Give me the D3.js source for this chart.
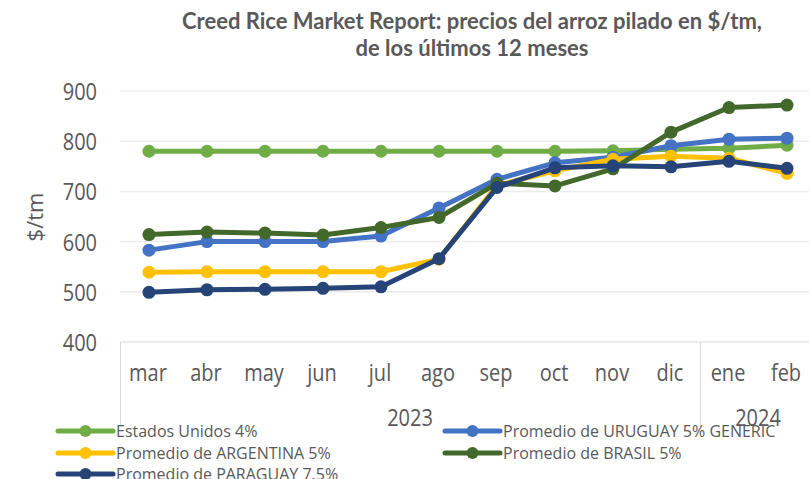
<!DOCTYPE html>
<html>
<head>
<meta charset="utf-8">
<script src="https://cdn.jsdelivr.net/npm/d3@7"></script>
<style>
	body { margin: 0; background: #fff; }
	text { font-family: "Open Sans", sans-serif; fill: #595959; }
	.title { font-family: Lato, "Open Sans", sans-serif; font-weight: bold; }
</style>
</head>
<body>
<script>
// months and years on the x axis
var months = ['mar', 'abr', 'may', 'jun', 'jul', 'ago', 'sep', 'oct', 'nov', 'dic', 'ene', 'feb'];
var years = [{ label: '2023', from: 0, to: 9 }, { label: '2024', from: 10, to: 11 }];
var yTicks = [400, 500, 600, 700, 800, 900];

// series values ($/tm)
var estadosUnidos = [780, 780, 780, 780, 780, 780, 780, 780, 781, 784, 786, 792];
var uruguay = [583, 600, 600, 600, 611, 667, 724, 757, 768, 791, 804, 806];
var argentina = [539, 540, 540, 540, 540, 565, 712, 741, 764, 770, 766, 736];
var brasil = [614, 619, 617, 613, 628, 648, 716, 711, 745, 818, 867, 872];
var paraguay = [499, 504, 505, 507, 510, 566, 708, 747, 751, 749, 760, 746];

var seriesNames = ['Estados Unidos 4%', 'Promedio de URUGUAY 5% GENERIC', 'Promedio de ARGENTINA 5%', 'Promedio de BRASIL 5%', 'Promedio de PARAGUAY 7.5%'];
var seriesValues = [estadosUnidos, uruguay, argentina, brasil, paraguay];
var seriesColors = ['#70AD47', '#4472C4', '#FFC000', '#43682B', '#264478'];

// note: "top" is a reserved window prop, so use plot* names
var W = 809, H = 479;
var plotL = 120, plotR = 816, plotT = 91, plotB = 342;
var STRETCH = 'scale(1,1.15)'; // axis text in the original looks a bit tall/narrow

var svg = d3.select('body').append('svg')
	.attr('width', W)
	.attr('height', H);

// title
svg.append('text').attr('class', 'title')
	.attr('x', 472).attr('y', 29)
	.attr('text-anchor', 'middle')
	.style('font-size', '22px')
	.text('Creed Rice Market Report: precios del arroz pilado en $/tm,');
svg.append('text').attr('class', 'title')
	.attr('x', 472).attr('y', 56)
	.attr('text-anchor', 'middle')
	.style('font-size', '22px')
	.text('de los últimos 12 meses');

var x = d3.scaleBand().domain(months).range([plotL, plotR]);
var y = d3.scaleLinear().domain([400, 900]).range([plotB, plotT]);

// gridlines
svg.append('g')
	.selectAll('line')
	.data(yTicks.slice(1))
	.enter().append('line')
	.attr('x1', plotL).attr('x2', W)
	.attr('y1', function(d) { return y(d); })
	.attr('y2', function(d) { return y(d); })
	.attr('stroke', '#ececec')
	.attr('stroke-width', 1.5);

// y axis labels
var yAxis = svg.append('g')
	.attr('transform', 'translate(' + (plotL - 23) + ',0)')
	.call(d3.axisLeft(y).tickValues(yTicks).tickSize(0).tickPadding(0));
yAxis.select('.domain').remove();
yAxis.selectAll('text')
	.attr('dy', null)
	.attr('transform', 'translate(0,8.5) ' + STRETCH)
	.style('font-size', '20px')
	.attr('fill', '#595959');

svg.append('text')
	.attr('transform', 'translate(43,217) rotate(-90)')
	.attr('text-anchor', 'middle')
	.style('font-size', '22px')
	.text('$/tm');

// x axis: bottom line, month labels, year groups
svg.append('line')
	.attr('x1', plotL).attr('x2', W)
	.attr('y1', plotB).attr('y2', plotB)
	.attr('stroke', '#d9d9d9');

var xAxis = svg.append('g')
	.attr('transform', 'translate(0,' + plotB + ')')
	.call(d3.axisBottom(x).tickSize(0).tickPadding(0));
xAxis.select('.domain').remove();
xAxis.selectAll('text')
	.attr('dy', null)
	.attr('transform', 'translate(-1,39) ' + STRETCH)
	.style('font-size', '20px')
	.attr('fill', '#595959');

// separators between year groups
var sepX = [plotL, x('ene'), plotR];
svg.append('g')
	.selectAll('line')
	.data(sepX)
	.enter().append('line')
	.attr('x1', function(d) { return d + 0.5; })
	.attr('x2', function(d) { return d + 0.5; })
	.attr('y1', plotB).attr('y2', 427)
	.attr('stroke', '#d9d9d9');

svg.append('g')
	.selectAll('text')
	.data(years)
	.enter().append('text')
	.attr('transform', function(d) {
		var cx = (x(months[d.from]) + x(months[d.to]) + x.bandwidth()) / 2;
		return 'translate(' + cx + ',426) ' + STRETCH;
	})
	.attr('text-anchor', 'middle')
	.style('font-size', '20px')
	.text(function(d) { return d.label; });

// lines + markers
var line = d3.line()
	.x(function(d, i) { return x(months[i]) + x.bandwidth() / 2; })
	.y(function(d) { return y(d); });

seriesValues.forEach(function(vals, k) {
	var g = svg.append('g');
	g.append('path')
		.datum(vals)
		.attr('d', line)
		.attr('fill', 'none')
		.attr('stroke', seriesColors[k])
		.attr('stroke-width', 5)
		.attr('stroke-linejoin', 'round');
	g.selectAll('circle')
		.data(vals)
		.enter().append('circle')
		.attr('cx', function(d, i) { return x(months[i]) + x.bandwidth() / 2; })
		.attr('cy', function(d) { return y(d); })
		.attr('r', 6.5)
		.attr('fill', seriesColors[k]);
});

// legend, two columns
var legendPos = [[58, 431], [445, 431], [58, 453], [445, 453], [58, 474]];
var legend = svg.append('g')
	.selectAll('g')
	.data(seriesNames)
	.enter().append('g')
	.attr('transform', function(d, i) { return 'translate(' + legendPos[i][0] + ',' + legendPos[i][1] + ')'; });
legend.append('line')
	.attr('x1', 0).attr('x2', 55)
	.attr('stroke', function(d, i) { return seriesColors[i]; })
	.attr('stroke-width', 5)
	.attr('stroke-linecap', 'round');
legend.append('circle')
	.attr('cx', 27.5).attr('r', 6)
	.attr('fill', function(d, i) { return seriesColors[i]; });
legend.append('text')
	.attr('x', 58).attr('dy', '0.36em')
	.style('font-size', '16px')
	.text(function(d) { return d; });
</script>
</body>
</html>
